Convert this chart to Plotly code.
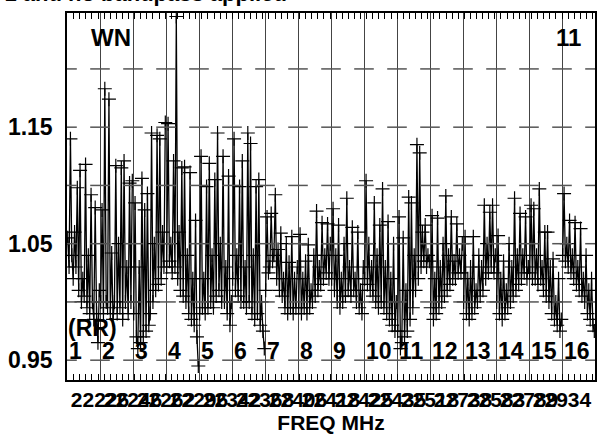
import plotly.graph_objects as go

# ---- data ----
if_numbers = list(range(1, 17))
spectra = [
    [1.055, 1.03, 1.14, 1.04, 1.02, 1.06, 1.03, 1.098, 1.01, 1.113, 1.00, 1.02, 1.005, 1.118, 0.995, 1.04, 0.99, 1.092, 1.00, 0.985, 1.081, 0.99, 0.965, 1.01],
    [1.00, 1.079, 0.99, 1.183, 1.00, 0.995, 1.174, 0.99, 1.042, 0.985, 1.00, 1.117, 0.99, 1.05, 0.995, 1.115, 0.985, 1.121, 1.00, 1.03, 0.99, 1.102, 1.00, 1.104],
    [0.99, 1.085, 0.97, 0.96, 1.03, 0.965, 1.106, 0.97, 1.079, 0.975, 1.093, 0.98, 0.99, 1.145, 1.00, 1.05, 1.01, 1.143, 1.015, 1.14, 1.02, 1.06, 1.03, 1.154],
    [1.03, 1.153, 1.035, 1.05, 1.025, 1.121, 1.03, 1.245, 1.02, 1.06, 1.01, 1.115, 1.005, 1.116, 1.00, 1.04, 0.99, 1.111, 0.985, 1.02, 0.98, 1.07, 0.97, 0.945],
    [0.99, 1.125, 0.995, 1.02, 0.99, 1.099, 0.995, 1.119, 1.00, 1.04, 0.995, 1.105, 1.005, 1.145, 1.01, 1.05, 1.00, 1.125, 1.00, 1.03, 0.99, 1.108, 0.98, 1.00],
    [1.02, 1.14, 1.01, 1.04, 1.005, 1.099, 1.00, 1.121, 1.00, 1.03, 0.995, 1.145, 1.00, 1.136, 0.99, 1.04, 0.985, 1.099, 0.99, 1.105, 0.98, 1.00, 0.975, 0.96],
    [1.01, 1.073, 1.025, 1.03, 1.076, 1.035, 1.04, 1.092, 1.02, 1.045, 1.01, 1.059, 1.005, 1.02, 0.995, 1.05, 0.99, 1.034, 0.995, 1.056, 0.99, 1.02, 0.995, 1.03],
    [0.995, 1.058, 0.99, 1.02, 0.995, 1.035, 0.99, 1.049, 0.995, 1.01, 1.00, 1.04, 1.005, 1.078, 1.01, 1.03, 1.015, 1.068, 1.02, 1.04, 1.025, 1.067, 1.02, 1.05],
    [1.02, 1.08, 1.01, 1.04, 1.00, 1.066, 0.995, 1.02, 1.00, 1.05, 1.005, 1.089, 1.01, 1.03, 1.005, 1.064, 1.01, 1.02, 1.00, 1.06, 0.995, 1.01, 0.99, 1.03],
    [1.02, 1.104, 1.015, 1.05, 1.01, 1.03, 1.005, 1.085, 1.00, 1.04, 0.995, 1.066, 1.00, 1.097, 0.995, 1.03, 0.99, 1.069, 0.985, 1.02, 0.98, 1.05, 0.975, 1.00],
    [0.975, 1.073, 0.96, 0.965, 1.055, 0.97, 1.01, 0.975, 1.09, 0.985, 1.085, 0.995, 1.04, 1.01, 1.135, 1.02, 1.128, 1.03, 1.06, 1.035, 1.066, 1.03, 1.04, 1.035],
    [0.995, 1.074, 0.985, 1.02, 0.99, 1.072, 0.995, 1.03, 1.00, 1.05, 1.005, 1.091, 1.01, 1.04, 1.015, 1.073, 1.02, 1.035, 1.02, 1.067, 1.025, 1.04, 1.025, 1.05],
    [1.00, 1.056, 0.99, 1.02, 0.985, 1.03, 0.99, 1.056, 0.995, 1.01, 1.00, 1.04, 1.005, 1.03, 1.01, 1.083, 1.02, 1.05, 1.025, 1.077, 1.03, 1.083, 1.025, 1.04],
    [1.00, 1.057, 0.99, 1.02, 0.985, 1.035, 0.99, 1.01, 0.995, 1.05, 1.00, 1.03, 1.005, 1.089, 1.01, 1.04, 1.015, 1.076, 1.02, 1.04, 1.025, 1.073, 1.02, 1.03],
    [1.025, 1.083, 1.02, 1.08, 1.02, 1.04, 1.015, 1.097, 1.02, 1.03, 1.01, 1.06, 1.005, 1.06, 1.00, 1.03, 0.99, 1.037, 0.985, 1.00, 0.98, 1.02, 0.975, 0.985],
    [1.04, 1.093, 1.035, 1.05, 1.03, 1.07, 1.025, 1.04, 1.02, 1.068, 1.015, 1.03, 1.01, 1.063, 1.005, 1.02, 1.00, 1.04, 0.99, 1.01, 0.985, 1.02, 0.98, 0.975],
]
freq_labels = ["22226", "22246", "22262", "22296", "22342", "22368", "22406", "22418",
               "22425", "22435", "22518", "22738", "22583", "22789", "22934"]
y_tick_vals = [0.95, 1.05, 1.15]
y_tick_text = ["0.95", "1.05", "1.15"]
y_dash_vals = [0.95, 1.00, 1.05, 1.10, 1.15, 1.20]
baseline_label = "WN"
right_label = "11"
stokes_label = "(RR)"
title_text = "CL table 1 and no bandpass applied"
x_title = "FREQ MHz"

FONT = "Liberation Sans, Arial, sans-serif"
n_if = len(spectra)

fig = go.Figure()

# data: one connected spectrum per IF
for k, vals in enumerate(spectra):
    n = len(vals)
    xs = [k + (j + 0.5) / n for j in range(n)]
    fig.add_trace(go.Scatter(
        x=xs, y=vals, mode="lines+markers",
        line=dict(color="black", width=1.3),
        marker=dict(symbol="cross-thin", size=10,
                    line=dict(color="black", width=1.2)),
        hoverinfo="skip", showlegend=False))

# horizontal dash ticks at each IF boundary
dx, dy = [], []
for b in range(n_if + 1):
    for v in y_dash_vals:
        dx.append(b)
        dy.append(v)
fig.add_trace(go.Scatter(
    x=dx, y=dy, mode="markers",
    marker=dict(symbol="line-ew", size=14, line=dict(color="#555", width=1.5)),
    hoverinfo="skip", showlegend=False))

# IF numbers
for k, num in enumerate(if_numbers):
    fig.add_annotation(x=k, y=0.958, xref="x", yref="y", text=str(num),
                       showarrow=False, xanchor="left", yanchor="middle", xshift=0,
                       font=dict(family=FONT, size=23, color="black", weight="bold"))

fig.add_annotation(x=0, y=0.978, xref="x", yref="y", text=stokes_label, showarrow=False,
                   xanchor="left", yanchor="middle", xshift=-1,
                   font=dict(family=FONT, size=23, color="black", weight="bold"))
fig.add_annotation(x=0.68, y=1.227, xref="x", yref="y", text=baseline_label, showarrow=False,
                   xanchor="left", yanchor="middle",
                   font=dict(family=FONT, size=24, color="black", weight="bold"))
fig.add_annotation(x=14.75, y=1.227, xref="x", yref="y", text=right_label, showarrow=False,
                   xanchor="left", yanchor="middle",
                   font=dict(family=FONT, size=24, color="black", weight="bold"))
fig.add_annotation(x=0.421, y=1.0, xref="paper", yref="paper", text=title_text,
                   showarrow=False, xanchor="right", yanchor="bottom", yshift=5,
                   font=dict(family=FONT, size=22, color="black", weight="bold"))

tick_positions = list(range(0, n_if + 1))
tick_text = [""] + freq_labels + [""]

fig.update_layout(
    width=600, height=434,
    margin=dict(l=67, r=3, t=13, b=54),
    paper_bgcolor="white", plot_bgcolor="white",
    font=dict(family=FONT, color="black", size=20, weight="bold"),
    xaxis=dict(
        range=[0, n_if], tickmode="array", tickvals=tick_positions, ticktext=tick_text,
        tickangle=0, ticks="inside", ticklen=0, showgrid=True, gridcolor="#444", gridwidth=1.2,
        showline=True, linecolor="black", linewidth=1.5, mirror="allticks", zeroline=False,
        tickfont=dict(family=FONT, size=21, color="black", weight="bold"),
        minor=dict(tickmode="linear", tick0=0.2, dtick=0.185, ticks="inside", ticklen=6,
                   tickcolor="black", tickwidth=1, showgrid=False),
        title=dict(text=x_title, standoff=0,
                   font=dict(family=FONT, size=21, color="black", weight="bold")),
    ),
    yaxis=dict(
        range=[0.933, 1.248], tickmode="array", tickvals=y_tick_vals, ticktext=y_tick_text,
        ticks="", showgrid=False, zeroline=False, showline=True, linecolor="black",
        linewidth=1.5, mirror=True, ticklabelstandoff=8,
        tickfont=dict(family=FONT, size=23, color="black", weight="bold"),
    ),
)

fig.write_html("out.html", config={"displayModeBar": False},
               post_script="document.body.style.margin='0';")
